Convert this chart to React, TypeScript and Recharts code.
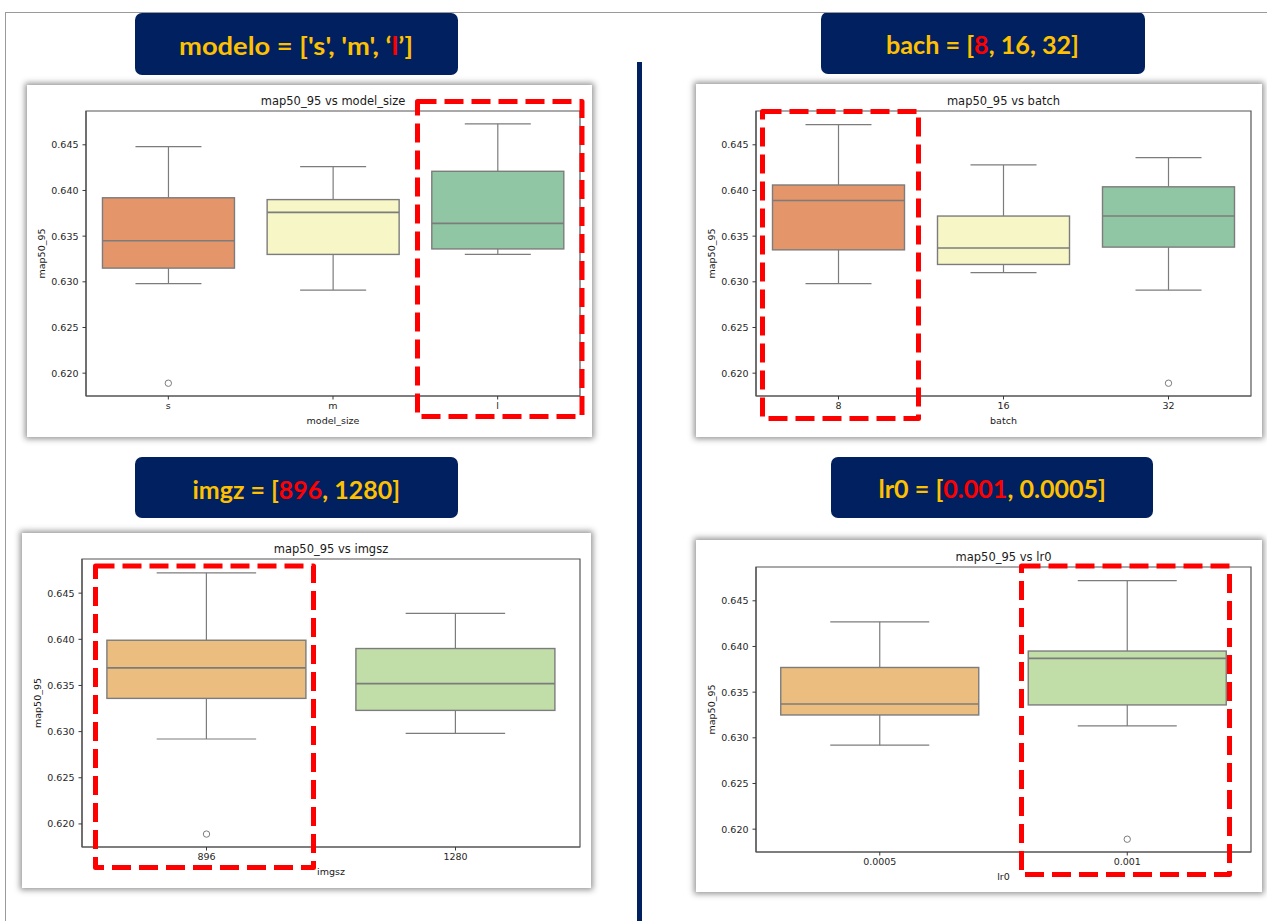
import { Bar, ComposedChart, ReferenceArea, Scatter, XAxis, YAxis } from 'recharts';

// ---- data: map50_95 box statistics per hyper-parameter ----
const MODEL_CATS = ['s', 'm', 'l'];
const MODEL_LOW = [0.6298, 0.6291, 0.633];
const MODEL_Q1 = [0.6315, 0.633, 0.6336];
const MODEL_MED = [0.6345, 0.6376, 0.6364];
const MODEL_Q3 = [0.6392, 0.639, 0.6421];
const MODEL_HIGH = [0.6448, 0.6426, 0.6473];
const MODEL_OUT = [0.6189, null, null];

const BATCH_CATS = ['8', '16', '32'];
const BATCH_LOW = [0.6298, 0.631, 0.6291];
const BATCH_Q1 = [0.6335, 0.6319, 0.6338];
const BATCH_MED = [0.6389, 0.6337, 0.6372];
const BATCH_Q3 = [0.6406, 0.6372, 0.6404];
const BATCH_HIGH = [0.6472, 0.6428, 0.6436];
const BATCH_OUT = [null, null, 0.6189];

const IMGSZ_CATS = ['896', '1280'];
const IMGSZ_LOW = [0.6292, 0.6298];
const IMGSZ_Q1 = [0.6336, 0.6323];
const IMGSZ_MED = [0.6369, 0.6352];
const IMGSZ_Q3 = [0.6399, 0.639];
const IMGSZ_HIGH = [0.6472, 0.6428];
const IMGSZ_OUT = [0.6189, null];

const LR_CATS = ['0.0005', '0.001'];
const LR_LOW = [0.6292, 0.6313];
const LR_Q1 = [0.6325, 0.6336];
const LR_MED = [0.6337, 0.6387];
const LR_Q3 = [0.6377, 0.6395];
const LR_HIGH = [0.6427, 0.6472];
const LR_OUT = [null, 0.6189];

const Y_TICKS = [0.62, 0.625, 0.63, 0.635, 0.64, 0.645];
const Y_DOMAIN: [number, number] = [0.6175, 0.6487];

const PALETTE_3 = ['#e5956a', '#f7f6c6', '#91c6a4'];
const PALETTE_2 = ['#ebbe80', '#c1dea8'];

const NAVY = '#002060';
const GOLD = '#ffc000';
const RED = '#ff0000';
const BOX_EDGE = '#7c7c7c';
const SPINE = '#555';
const FONT = '"DejaVu Sans", sans-serif';

type Row = {
  cat: string;
  range: [number, number];
  lo: number;
  q1: number;
  med: number;
  q3: number;
  hi: number;
  outlier: number | null;
  color: string;
};

function buildRows(
  cats: string[],
  lo: number[],
  q1: number[],
  med: number[],
  q3: number[],
  hi: number[],
  out: (number | null)[],
  colors: string[],
): Row[] {
  return cats.map((cat, i) => ({
    cat,
    range: [lo[i], hi[i]],
    lo: lo[i],
    q1: q1[i],
    med: med[i],
    q3: q3[i],
    hi: hi[i],
    outlier: out[i],
    color: colors[i],
  }));
}

// box + whiskers drawn inside the [low, high] range bar
function BoxShape(props: any) {
  const { x, y, width, height, payload } = props;
  const { lo, q1, med, q3, hi, color } = payload as Row;
  const top = Math.min(y, y + height);
  const bottom = Math.max(y, y + height);
  const py = (v: number) => top + ((hi - v) / (hi - lo)) * (bottom - top);
  const cx = x + width / 2;
  const cap = width / 4;
  return (
    <g>
      <line x1={cx} x2={cx} y1={py(hi)} y2={py(q3)} stroke={BOX_EDGE} strokeWidth={1.2} />
      <line x1={cx} x2={cx} y1={py(q1)} y2={py(lo)} stroke={BOX_EDGE} strokeWidth={1.2} />
      <line x1={cx - cap} x2={cx + cap} y1={py(hi)} y2={py(hi)} stroke={BOX_EDGE} strokeWidth={1.2} />
      <line x1={cx - cap} x2={cx + cap} y1={py(lo)} y2={py(lo)} stroke={BOX_EDGE} strokeWidth={1.2} />
      <rect
        x={x}
        y={py(q3)}
        width={width}
        height={py(q1) - py(q3)}
        fill={color}
        stroke={BOX_EDGE}
        strokeWidth={1.4}
      />
      <line x1={x} x2={x + width} y1={py(med)} y2={py(med)} stroke={BOX_EDGE} strokeWidth={1.6} />
    </g>
  );
}

function OutlierDot(props: any) {
  const { cx, cy, payload } = props;
  if (!payload || payload.outlier == null || !Number.isFinite(cy)) return <g />;
  return <circle cx={cx} cy={cy} r={3.2} fill="none" stroke={BOX_EDGE} strokeWidth={1} />;
}

// chart title sits above the plot frame
function TitleLabel(props: any) {
  const { viewBox, text } = props;
  if (!viewBox) return null;
  return (
    <text
      x={viewBox.x + viewBox.width / 2}
      y={viewBox.y - 10.5}
      textAnchor="middle"
      dominantBaseline="central"
      fontSize={11.5}
      fontFamily={FONT}
      fill="#1a1a1a"
    >
      {text}
    </text>
  );
}

function YTitle(props: any) {
  const { viewBox, text } = props;
  if (!viewBox) return null;
  const x = viewBox.x + viewBox.width - 45;
  const y = viewBox.y + viewBox.height / 2;
  return (
    <text
      x={x}
      y={y}
      transform={`rotate(-90, ${x}, ${y})`}
      textAnchor="middle"
      dominantBaseline="central"
      fontSize={9.5}
      fontFamily={FONT}
      fill="#1a1a1a"
    >
      {text}
    </text>
  );
}

function XTitle(props: any) {
  const { viewBox, text } = props;
  if (!viewBox) return null;
  return (
    <text
      x={viewBox.x + viewBox.width / 2}
      y={viewBox.y + 24.5}
      textAnchor="middle"
      dominantBaseline="central"
      fontSize={9.5}
      fontFamily={FONT}
      fill="#1a1a1a"
    >
      {text}
    </text>
  );
}

type Frame = { left: number; top: number; right: number; bottom: number };

const Y_AXIS_W = 50;
const X_AXIS_H = 30;

function BoxPanel({
  rows,
  frame,
  plot,
  title,
  xLabel,
}: {
  rows: Row[];
  frame: Frame;
  plot: Frame;
  title: string;
  xLabel: string;
}) {
  const width = frame.right - frame.left;
  const height = frame.bottom - frame.top;
  const margin = {
    top: plot.top - frame.top,
    left: plot.left - frame.left - Y_AXIS_W,
    right: frame.right - plot.right,
    bottom: frame.bottom - plot.bottom - X_AXIS_H,
  };
  const tickStyle = { fontSize: 9.5, fill: '#262626', fontFamily: FONT };
  return (
    <div
      style={{
        position: 'absolute',
        left: frame.left,
        top: frame.top,
        width,
        height,
        background: '#fff',
        boxShadow: '0 0 6px 2px rgba(0,0,0,0.42)',
      }}
    >
      <ComposedChart width={width} height={height} data={rows} margin={margin} barCategoryGap="10%">
        <XAxis
          xAxisId="b"
          dataKey="cat"
          type="category"
          height={X_AXIS_H}
          tick={tickStyle}
          tickSize={3.5}
          tickMargin={3}
          tickLine={{ stroke: '#3a3a3a' }}
          axisLine={{ stroke: SPINE, strokeWidth: 1.2 }}
          label={<XTitle text={xLabel} />}
        />
        <YAxis
          yAxisId="l"
          type="number"
          domain={Y_DOMAIN}
          allowDataOverflow
          ticks={Y_TICKS}
          width={Y_AXIS_W}
          tick={tickStyle}
          tickSize={3.5}
          tickMargin={4}
          tickLine={{ stroke: '#3a3a3a' }}
          axisLine={{ stroke: SPINE, strokeWidth: 1.2 }}
          tickFormatter={(v: number) => v.toFixed(3)}
          label={<YTitle text="map50_95" />}
        />
        {/* full plot frame (top and right spines) plus the title */}
        <ReferenceArea
          xAxisId="b"
          yAxisId="l"
          y1={Y_DOMAIN[0]}
          y2={Y_DOMAIN[1]}
          fill="none"
          fillOpacity={0}
          stroke={SPINE}
          strokeWidth={1.2}
          label={<TitleLabel text={title} />}
        />
        <Bar
          xAxisId="b"
          yAxisId="l"
          dataKey="range"
          shape={<BoxShape />}
          isAnimationActive={false}
        />
        <Scatter
          xAxisId="b"
          yAxisId="l"
          dataKey="outlier"
          shape={<OutlierDot />}
          isAnimationActive={false}
        />
      </ComposedChart>
    </div>
  );
}

type Piece = { text: string; color: string };

const HEADERS: {
  box: Frame;
  x: number;
  baseline: number;
  length: number;
  pieces: Piece[];
}[] = [
  {
    box: { left: 135, top: 13, right: 458, bottom: 75 },
    x: 179,
    baseline: 55,
    length: 234,
    pieces: [
      { text: "modelo = ['s', 'm', \u2018", color: GOLD },
      { text: 'l', color: RED },
      { text: '\u2019]', color: GOLD },
    ],
  },
  {
    box: { left: 821, top: 12, right: 1145, bottom: 74 },
    x: 886,
    baseline: 54,
    length: 193,
    pieces: [
      { text: 'bach = [', color: GOLD },
      { text: '8', color: RED },
      { text: ', 16, 32]', color: GOLD },
    ],
  },
  {
    box: { left: 135, top: 457, right: 458, bottom: 518 },
    x: 192.5,
    baseline: 498.5,
    length: 207.5,
    pieces: [
      { text: 'imgz = [', color: GOLD },
      { text: '896', color: RED },
      { text: ', 1280]', color: GOLD },
    ],
  },
  {
    box: { left: 831, top: 457, right: 1153, bottom: 518 },
    x: 878.5,
    baseline: 498,
    length: 227.5,
    pieces: [
      { text: 'lr0 = [', color: GOLD },
      { text: '0.001', color: RED },
      { text: ', 0.0005]', color: GOLD },
    ],
  },
];

// dashed highlight frames (stroke centre lines)
const HIGHLIGHTS: Frame[] = [
  { left: 417.5, top: 101.5, right: 582, bottom: 416.5 },
  { left: 762.5, top: 111.5, right: 918.5, bottom: 418.5 },
  { left: 95.5, top: 566, right: 313.5, bottom: 867.5 },
  { left: 1021.5, top: 566, right: 1229.5, bottom: 874.5 },
];

export default function App() {
  const modelRows = buildRows(MODEL_CATS, MODEL_LOW, MODEL_Q1, MODEL_MED, MODEL_Q3, MODEL_HIGH, MODEL_OUT, PALETTE_3);
  const batchRows = buildRows(BATCH_CATS, BATCH_LOW, BATCH_Q1, BATCH_MED, BATCH_Q3, BATCH_HIGH, BATCH_OUT, PALETTE_3);
  const imgRows = buildRows(IMGSZ_CATS, IMGSZ_LOW, IMGSZ_Q1, IMGSZ_MED, IMGSZ_Q3, IMGSZ_HIGH, IMGSZ_OUT, PALETTE_2);
  const lrRows = buildRows(LR_CATS, LR_LOW, LR_Q1, LR_MED, LR_Q3, LR_HIGH, LR_OUT, PALETTE_2);

  return (
    <div
      style={{
        position: 'absolute',
        left: 0,
        top: 0,
        width: 1267,
        height: 921,
        background: '#fff',
        overflow: 'hidden',
      }}
    >
      {HEADERS.map((h, i) => (
        <div
          key={i}
          style={{
            position: 'absolute',
            left: h.box.left,
            top: h.box.top,
            width: h.box.right - h.box.left,
            height: h.box.bottom - h.box.top,
            background: NAVY,
            borderRadius: 7,
          }}
        />
      ))}

      <BoxPanel
        rows={modelRows}
        frame={{ left: 27, top: 85, right: 592, bottom: 437 }}
        plot={{ left: 86, top: 111, right: 580, bottom: 396 }}
        title="map50_95 vs model_size"
        xLabel="model_size"
      />
      <BoxPanel
        rows={batchRows}
        frame={{ left: 696, top: 84, right: 1262, bottom: 437 }}
        plot={{ left: 756, top: 111, right: 1251, bottom: 396 }}
        title="map50_95 vs batch"
        xLabel="batch"
      />
      <BoxPanel
        rows={imgRows}
        frame={{ left: 22, top: 533, right: 591, bottom: 888 }}
        plot={{ left: 82, top: 559, right: 580, bottom: 847 }}
        title="map50_95 vs imgsz"
        xLabel="imgsz"
      />
      <BoxPanel
        rows={lrRows}
        frame={{ left: 696, top: 540, right: 1262, bottom: 892 }}
        plot={{ left: 756, top: 567, right: 1251, bottom: 852 }}
        title="map50_95 vs lr0"
        xLabel="lr0"
      />

      <svg
        width={1267}
        height={921}
        style={{ position: 'absolute', left: 0, top: 0, pointerEvents: 'none' }}
      >
        {/* slide border */}
        <line x1={5} x2={1267} y1={12.5} y2={12.5} stroke="#9a9a9a" strokeWidth={1} />
        <line x1={5.5} x2={5.5} y1={12} y2={921} stroke="#9a9a9a" strokeWidth={1} />
        {/* centre divider */}
        <rect x={637} y={62} width={5} height={859} fill={NAVY} />

        {HEADERS.map((h, i) => (
          <text
            key={i}
            x={h.x}
            y={h.baseline}
            textLength={h.length}
            lengthAdjust="spacingAndGlyphs"
            fontSize={24}
            fontWeight={700}
            fontFamily='Lato, "Open Sans", sans-serif'
          >
            {h.pieces.map((p, j) => (
              <tspan key={j} fill={p.color}>
                {p.text}
              </tspan>
            ))}
          </text>
        ))}

        {HIGHLIGHTS.map((r, i) => (
          <rect
            key={i}
            x={r.left}
            y={r.top}
            width={r.right - r.left}
            height={r.bottom - r.top}
            fill="none"
            stroke={RED}
            strokeWidth={5}
            strokeDasharray="19 8"
            strokeLinejoin="round"
          />
        ))}
      </svg>
    </div>
  );
}
